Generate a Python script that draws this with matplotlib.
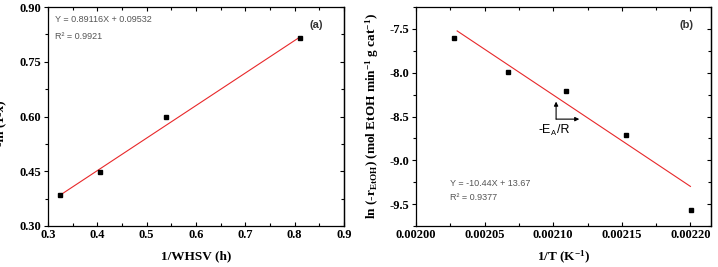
import numpy as np
import matplotlib.pyplot as plt
from matplotlib.ticker import MultipleLocator, AutoMinorLocator, NullFormatter

# panel (a): -ln(1-x) vs 1/WHSV
whsv_inv = [0.325, 0.405, 0.540, 0.811]
ln_conv = [0.385, 0.449, 0.598, 0.815]
fit_a = (0.89116, 0.09532)

# panel (b): Arrhenius plot
inv_T = [0.0020275, 0.0020672, 0.0021092, 0.0021530, 0.0022002]
ln_rate = [-7.60, -7.99, -8.21, -8.71, -9.57]
fit_b = (-10.44, 13.67)  # x in 1000/T

serif = 'Liberation Serif'
sans = 'Liberation Sans'
plt.rcParams['font.family'] = serif
plt.rcParams['font.weight'] = 'bold'
plt.rcParams['axes.labelweight'] = 'bold'
plt.rcParams['mathtext.fontset'] = 'custom'
plt.rcParams['mathtext.rm'] = serif + ':bold'
plt.rcParams['mathtext.it'] = serif + ':bold'

fig = plt.figure(figsize=(7.18, 2.67), dpi=100)
ax1 = fig.add_axes([48/718, 41/267, 296/718, 219/267])
ax2 = fig.add_axes([416/718, 41/267, 295/718, 219/267])


def style(ax):
    ax.xaxis.set_minor_locator(AutoMinorLocator(2))
    ax.yaxis.set_minor_locator(AutoMinorLocator(2))
    ax.tick_params(axis='x', which='both', direction='in', top=True)
    ax.tick_params(axis='y', which='both', direction='out', right=False)
    ax.tick_params(which='both', width=0.8, labelsize=9, pad=2)
    ax.tick_params(which='major', length=3)
    ax.tick_params(which='minor', length=2)
    # right-side ticks point inward
    sec = ax.secondary_yaxis('right')
    sec.yaxis.set_major_locator(ax.yaxis.get_major_locator())
    sec.yaxis.set_minor_locator(AutoMinorLocator(2))
    sec.yaxis.set_major_formatter(NullFormatter())
    sec.tick_params(which='both', direction='in', width=0.8)
    sec.tick_params(which='major', length=3)
    sec.tick_params(which='minor', length=2)
    sec.spines['right'].set_linewidth(0.9)
    for s in ax.spines.values():
        s.set_linewidth(0.9)


# (a)
xf = np.linspace(whsv_inv[0], whsv_inv[-1], 50)
ax1.plot(xf, fit_a[0] * xf + fit_a[1], color='#e8282a', lw=0.8)
ax1.plot(whsv_inv, ln_conv, 's', color='black', ms=3.5)
ax1.set_xlim(0.3, 0.9)
ax1.set_ylim(0.30, 0.90)
ax1.xaxis.set_major_locator(MultipleLocator(0.1))
ax1.yaxis.set_major_locator(MultipleLocator(0.15))
ax1.yaxis.set_major_formatter(plt.FormatStrFormatter('%.2f'))
style(ax1)
ax1.set_xlabel('1/WHSV (h)', fontsize=9.5, labelpad=7)
ax1.set_ylabel('-ln (1-x)', fontsize=9.5)
ax1.yaxis.set_label_coords(-0.14, 0.47)
ax1.text(0.025, 0.965, 'Y = 0.89116X + 0.09532', transform=ax1.transAxes,
         fontfamily=sans, fontweight='normal', fontsize=6.5, color='#555555', va='top')
ax1.text(0.025, 0.885, 'R² = 0.9921', transform=ax1.transAxes,
         fontfamily=sans, fontweight='normal', fontsize=6.5, color='#555555', va='top')
ax1.text(0.93, 0.92, '(a)', transform=ax1.transAxes, fontfamily=sans,
         fontweight='bold', fontsize=8, ha='right', va='center', color='#333333')

# (b)
xf = np.linspace(0.00203, 0.0022, 50)
ax2.plot(xf, fit_b[0] * xf * 1000 + fit_b[1], color='#e8282a', lw=0.8)
ax2.plot(inv_T, ln_rate, 's', color='black', ms=3.5)
ax2.set_xlim(0.0020, 0.002215)
ax2.set_ylim(-9.75, -7.25)
ax2.xaxis.set_major_locator(MultipleLocator(0.00005))
ax2.xaxis.set_major_formatter(plt.FormatStrFormatter('%.5f'))
ax2.yaxis.set_major_locator(MultipleLocator(0.5))
ax2.yaxis.set_major_formatter(plt.FormatStrFormatter('%.1f'))
style(ax2)
ax2.set_xlabel('1/T (K$^{-1}$)', fontsize=9.5, labelpad=6)
ax2.set_ylabel(r'ln (-r$_{\mathregular{EtOH}}$) (mol EtOH min$^{\mathregular{-1}}$ g cat$^{\mathregular{-1}}$)',
               fontsize=9.5)
ax2.yaxis.set_label_coords(-0.12, 0.5)
ax2.annotate('', xy=(0.0021021, -8.33), xytext=(0.0021021, -8.53),
             arrowprops=dict(arrowstyle='-|>', color='black', lw=0.8,
                             mutation_scale=6, shrinkA=0, shrinkB=0))
ax2.annotate('', xy=(0.002119, -8.53), xytext=(0.0021021, -8.53),
             arrowprops=dict(arrowstyle='-|>', color='black', lw=0.8,
                             mutation_scale=6, shrinkA=0, shrinkB=0))
ax2.text(0.0020985, -8.65, '-E', fontfamily=sans, fontweight='normal', fontsize=9,
         ha='right', va='center')
ax2.text(0.0020985, -8.69, 'A', fontfamily=sans, fontweight='normal', fontsize=5.5,
         ha='left', va='center')
ax2.text(0.0021025, -8.65, '/R', fontfamily=sans, fontweight='normal', fontsize=9,
         ha='left', va='center')
ax2.text(0.002025, -9.26, 'Y = -10.44X + 13.67', fontfamily=sans, fontweight='normal',
         fontsize=6.5, color='#555555', va='center')
ax2.text(0.002025, -9.42, 'R² = 0.9377', fontfamily=sans, fontweight='normal',
         fontsize=6.5, color='#555555', va='center')
ax2.text(0.94, 0.92, '(b)', transform=ax2.transAxes, fontfamily=sans,
         fontweight='bold', fontsize=8, ha='right', va='center', color='#333333')

fig.savefig('out.png', dpi=100)
